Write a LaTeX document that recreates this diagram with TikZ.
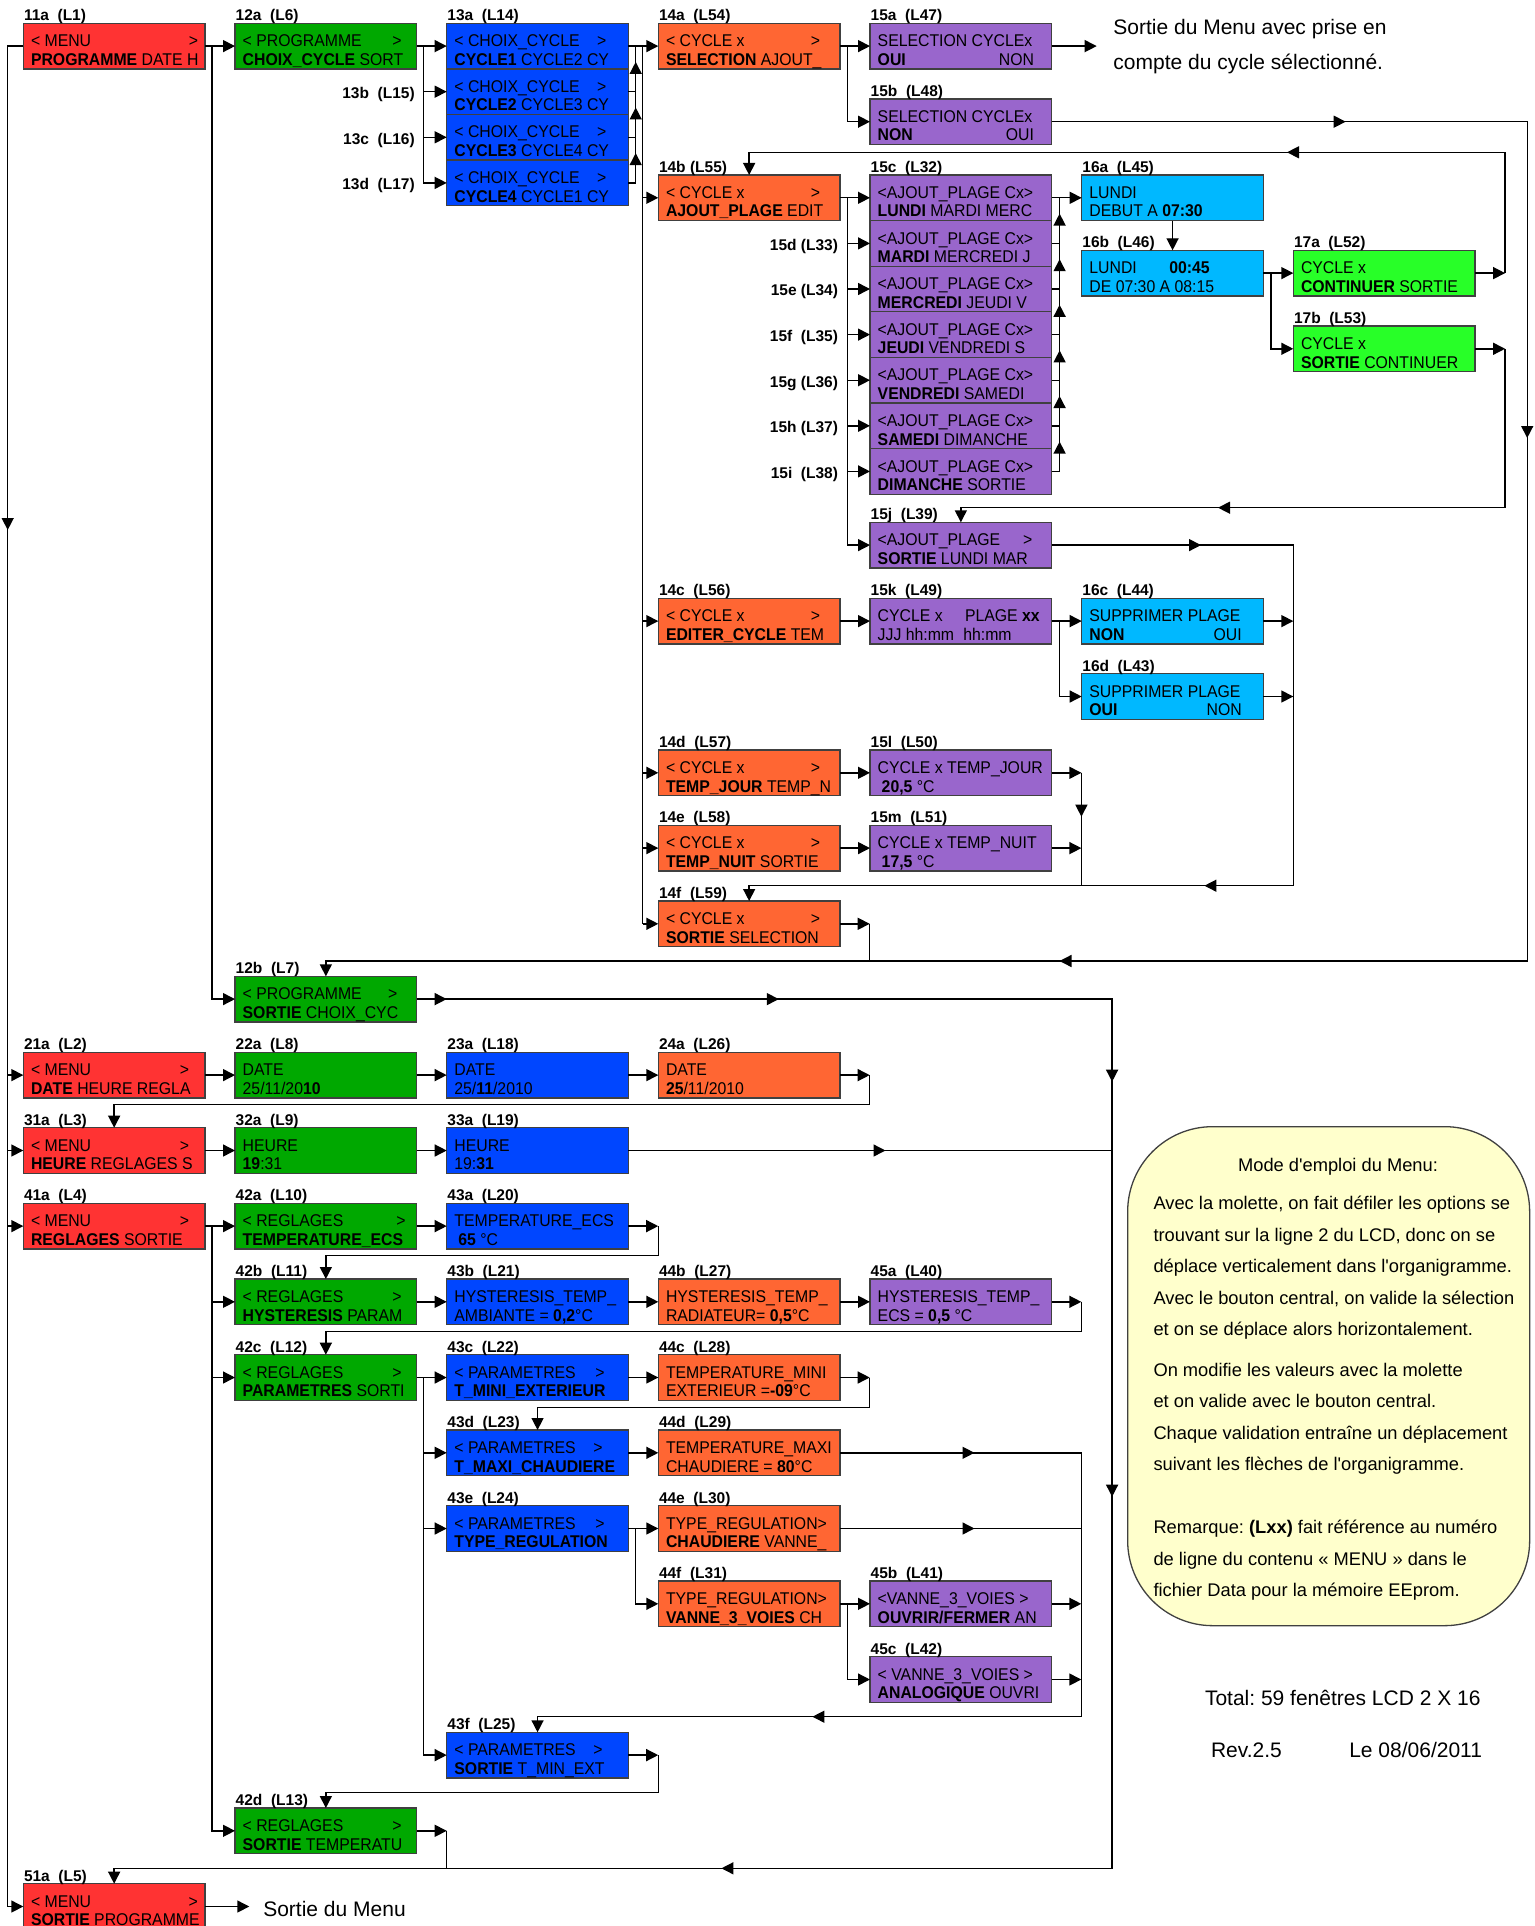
\documentclass[tikz,border=0pt]{standalone}
\usepackage{fontspec}
\setmainfont{Liberation Sans}
\newfontfamily\lcdfont[FakeStretch=0.93]{Liberation Sans}
\usetikzlibrary{arrows.meta,calc}
\frenchspacing
\definecolor{cred}{RGB}{255,51,51}
\definecolor{cgreen}{RGB}{0,168,0}
\definecolor{cblue}{RGB}{0,70,255}
\definecolor{corange}{RGB}{255,102,51}
\definecolor{cpurple}{RGB}{153,102,204}
\definecolor{ccyan}{RGB}{0,184,255}
\definecolor{clime}{RGB}{40,255,40}
\definecolor{cnote}{RGB}{255,255,204}
\tikzset{
 lcdbox/.style={draw=black!75,line width=1.3pt,minimum width=181.7pt,minimum height=45.6pt,inner sep=0pt,outer sep=0pt,anchor=north west},
 lcdtxt/.style={inner sep=0pt,outer sep=0pt,anchor=base west,font=\lcdfont\fontsize{17}{20}\selectfont},
 labtxt/.style={inner sep=0pt,outer sep=0pt,anchor=base west,font=\fontsize{15.5}{18}\selectfont\bfseries},
 bigtxt/.style={inner sep=0pt,outer sep=0pt,anchor=base west,font=\fontsize{21}{25}\selectfont},
 notetxt/.style={inner sep=0pt,outer sep=0pt,anchor=base west,font=\fontsize{18.3}{22}\selectfont},
 con/.style={line width=1.4pt,draw=black},
 arr/.style={con,-{Triangle[length=12pt,width=12pt]}},
}
\newcommand{\lcdBox}[6]{%
  \node[lcdbox,fill=#4] (#1) at (#2,#3) {};
  \node[lcdtxt] (#1a) at ([xshift=7.7pt,yshift=-23.4pt]#1.north west) {#5};
  \node[lcdtxt] (#1b) at ([xshift=7.7pt,yshift=-42pt]#1.north west) {#6};
}
\newcommand{\lcdR}[3]{\node[lcdtxt,anchor=base east] (#1r) at ([xshift=#2pt,yshift=-23.4pt]#1.north west) {#3};}
\newcommand{\lcdRb}[3]{\node[lcdtxt,anchor=base east] (#1s) at ([xshift=#2pt,yshift=-42pt]#1.north west) {#3};}
\newcommand{\lcdAt}[5]{\node[lcdtxt] (#1) at ([xshift=#3pt,yshift=-#4pt]#2.north west) {#5};}
\newcommand{\lcdLab}[2]{\node[labtxt] (#1l) at ([xshift=0.7pt,yshift=2.7pt]#1.north west) {#2};}
\newcommand{\lcdLabL}[2]{\node[labtxt,anchor=base east] (#1l) at ([xshift=-32pt,yshift=-29.6pt]#1.north west) {#2};}
\begin{document}
\begin{tikzpicture}[x=1pt,y=-1pt]
\useasboundingbox (0,0) rectangle (1534,1926);
\fill[white] (0,0) rectangle (1534,1926);
% ---------- column 1
\lcdBox{b11a}{23.3}{23.3}{cred}{< MENU}{\textbf{PROGRAMME} DATE H}\lcdR{b11a}{174.7}{>}\lcdLab{b11a}{11a~~(L1)}
\lcdBox{b21a}{23.3}{1052.3}{cred}{< MENU}{\textbf{DATE} HEURE REGLA}\lcdR{b21a}{165.7}{>}\lcdLab{b21a}{21a~~(L2)}
\lcdBox{b31a}{23.3}{1127.7}{cred}{< MENU}{\textbf{HEURE} REGLAGES S}\lcdR{b31a}{165.7}{>}\lcdLab{b31a}{31a~~(L3)}
\lcdBox{b41a}{23.3}{1203.3}{cred}{< MENU}{\textbf{REGLAGES} SORTIE}\lcdR{b41a}{165.7}{>}\lcdLab{b41a}{41a~~(L4)}
\lcdBox{b51a}{23.3}{1883.7}{cred}{< MENU}{\textbf{SORTIE} PROGRAMME}\lcdR{b51a}{174.5}{>}\lcdLab{b51a}{51a~~(L5)}
% ---------- column 2
\lcdBox{b12a}{235}{23.3}{cgreen}{< PROGRAMME}{\textbf{CHOIX\_CYCLE} SORT}\lcdR{b12a}{166.7}{>}\lcdLab{b12a}{12a~~(L6)}
\lcdBox{b12b}{235}{976.3}{cgreen}{< PROGRAMME}{\textbf{SORTIE} CHOIX\_CYC}\lcdR{b12b}{162.3}{>}\lcdLab{b12b}{12b~~(L7)}
\lcdBox{b22a}{235}{1052.3}{cgreen}{DATE}{25/11/20\textbf{10}}\lcdLab{b22a}{22a~~(L8)}
\lcdBox{b32a}{235}{1127.7}{cgreen}{HEURE}{\textbf{19}:31}\lcdLab{b32a}{32a~~(L9)}
\lcdBox{b42a}{235}{1203.3}{cgreen}{< REGLAGES}{\textbf{TEMPERATURE\_ECS}}\lcdR{b42a}{170.7}{>}\lcdLab{b42a}{42a~~(L10)}
\lcdBox{b42b}{235}{1279}{cgreen}{< REGLAGES}{\textbf{HYSTERESIS} PARAM}\lcdR{b42b}{166.7}{>}\lcdLab{b42b}{42b~~(L11)}
\lcdBox{b42c}{235}{1354.7}{cgreen}{< REGLAGES}{\textbf{PARAMETRES} SORTI}\lcdR{b42c}{166.7}{>}\lcdLab{b42c}{42c~~(L12)}
\lcdBox{b42d}{235}{1808}{cgreen}{< REGLAGES}{\textbf{SORTIE} TEMPERATU}\lcdR{b42d}{166.7}{>}\lcdLab{b42d}{42d~~(L13)}
% ---------- column 3
\lcdBox{b13a}{446.7}{23.3}{cblue}{< CHOIX\_CYCLE}{\textbf{CYCLE1} CYCLE2 CY}\lcdR{b13a}{159.7}{>}\lcdLab{b13a}{13a~~(L14)}
\lcdBox{b13b}{446.7}{68.9}{cblue}{< CHOIX\_CYCLE}{\textbf{CYCLE2} CYCLE3 CY}\lcdR{b13b}{159.7}{>}\lcdLabL{b13b}{13b~~(L15)}
\lcdBox{b13c}{446.7}{114.5}{cblue}{< CHOIX\_CYCLE}{\textbf{CYCLE3} CYCLE4 CY}\lcdR{b13c}{159.7}{>}\lcdLabL{b13c}{13c~~(L16)}
\lcdBox{b13d}{446.7}{160.1}{cblue}{< CHOIX\_CYCLE}{\textbf{CYCLE4} CYCLE1 CY}\lcdR{b13d}{159.7}{>}\lcdLabL{b13d}{13d~~(L17)}
\lcdBox{b23a}{446.7}{1052.3}{cblue}{DATE}{25/\textbf{11}/2010}\lcdLab{b23a}{23a~~(L18)}
\lcdBox{b33a}{446.7}{1127.7}{cblue}{HEURE}{19:\textbf{31}}\lcdLab{b33a}{33a~~(L19)}
\lcdBox{b43a}{446.7}{1203.3}{cblue}{TEMPERATURE\_ECS}{\hspace{4pt}\textbf{65} °C}\lcdLab{b43a}{43a~~(L20)}
\lcdBox{b43b}{446.7}{1279}{cblue}{HYSTERESIS\_TEMP\_}{AMBIANTE = \textbf{0,2}°C}\lcdLab{b43b}{43b~~(L21)}
\lcdBox{b43c}{446.7}{1354.7}{cblue}{< PARAMETRES}{\textbf{T\_MINI\_EXTERIEUR}}\lcdR{b43c}{158}{>}\lcdLab{b43c}{43c~~(L22)}
\lcdBox{b43d}{446.7}{1430}{cblue}{< PARAMETRES}{\textbf{T\_MAXI\_CHAUDIERE}}\lcdR{b43d}{156}{>}\lcdLab{b43d}{43d~~(L23)}
\lcdBox{b43e}{446.7}{1505.7}{cblue}{< PARAMETRES}{\textbf{TYPE\_REGULATION}}\lcdR{b43e}{158}{>}\lcdLab{b43e}{43e~~(L24)}
\lcdBox{b43f}{446.7}{1732.3}{cblue}{< PARAMETRES}{\textbf{SORTIE} T\_MIN\_EXT}\lcdR{b43f}{156}{>}\lcdLab{b43f}{43f~~(L25)}
% ---------- column 4
\lcdBox{b14a}{658.3}{23.3}{corange}{< CYCLE x}{\textbf{SELECTION} AJOUT\_}\lcdR{b14a}{161.7}{>}\lcdLab{b14a}{14a~~(L54)}
\lcdBox{b14b}{658.3}{175}{corange}{< CYCLE x}{\textbf{AJOUT\_PLAGE} EDIT}\lcdR{b14b}{161.7}{>}\lcdLab{b14b}{14b~(L55)}
\lcdBox{b14c}{658.3}{598.3}{corange}{< CYCLE x}{\textbf{EDITER\_CYCLE} TEM}\lcdR{b14c}{161.7}{>}\lcdLab{b14c}{14c~~(L56)}
\lcdBox{b14d}{658.3}{750}{corange}{< CYCLE x}{\textbf{TEMP\_JOUR} TEMP\_N}\lcdR{b14d}{161.7}{>}\lcdLab{b14d}{14d~~(L57)}
\lcdBox{b14e}{658.3}{825.3}{corange}{< CYCLE x}{\textbf{TEMP\_NUIT} SORTIE}\lcdR{b14e}{161.7}{>}\lcdLab{b14e}{14e~~(L58)}
\lcdBox{b14f}{658.3}{901}{corange}{< CYCLE x}{\textbf{SORTIE} SELECTION}\lcdR{b14f}{161.7}{>}\lcdLab{b14f}{14f~~(L59)}
\lcdBox{b24a}{658.3}{1052.3}{corange}{DATE}{\textbf{25}/11/2010}\lcdLab{b24a}{24a~~(L26)}
\lcdBox{b44b}{658.3}{1279}{corange}{HYSTERESIS\_TEMP\_}{RADIATEUR= \textbf{0,5}°C}\lcdLab{b44b}{44b~~(L27)}
\lcdBox{b44c}{658.3}{1354.7}{corange}{TEMPERATURE\_MINI}{EXTERIEUR =\textbf{-09}°C}\lcdLab{b44c}{44c~~(L28)}
\lcdBox{b44d}{658.3}{1430}{corange}{TEMPERATURE\_MAXI}{CHAUDIERE = \textbf{80}°C}\lcdLab{b44d}{44d~~(L29)}
\lcdBox{b44e}{658.3}{1505.7}{corange}{TYPE\_REGULATION>}{\textbf{CHAUDIERE} VANNE\_}\lcdLab{b44e}{44e~~(L30)}
\lcdBox{b44f}{658.3}{1581}{corange}{TYPE\_REGULATION>}{\textbf{VANNE\_3\_VOIES} CH}\lcdLab{b44f}{44f~~(L31)}
% ---------- column 5
\lcdBox{b15a}{870}{23.3}{cpurple}{SELECTION CYCLEx}{\textbf{OUI}}\lcdRb{b15a}{164}{NON}\lcdLab{b15a}{15a~~(L47)}
\lcdBox{b15b}{870}{98.9}{cpurple}{SELECTION CYCLEx}{\textbf{NON}}\lcdRb{b15b}{164}{OUI}\lcdLab{b15b}{15b~~(L48)}
\lcdBox{b15c}{870}{175}{cpurple}{<AJOUT\_PLAGE Cx>}{\textbf{LUNDI} MARDI MERC}\lcdLab{b15c}{15c~~(L32)}
\lcdBox{b15d}{870}{220.6}{cpurple}{<AJOUT\_PLAGE Cx>}{\textbf{MARDI} MERCREDI J}\lcdLabL{b15d}{15d~(L33)}
\lcdBox{b15e}{870}{266.2}{cpurple}{<AJOUT\_PLAGE Cx>}{\textbf{MERCREDI} JEUDI V}\lcdLabL{b15e}{15e~(L34)}
\lcdBox{b15f}{870}{311.8}{cpurple}{<AJOUT\_PLAGE Cx>}{\textbf{JEUDI} VENDREDI S}\lcdLabL{b15f}{15f~~(L35)}
\lcdBox{b15g}{870}{357.4}{cpurple}{<AJOUT\_PLAGE Cx>}{\textbf{VENDREDI} SAMEDI}\lcdLabL{b15g}{15g~(L36)}
\lcdBox{b15h}{870}{403}{cpurple}{<AJOUT\_PLAGE Cx>}{\textbf{SAMEDI} DIMANCHE}\lcdLabL{b15h}{15h~(L37)}
\lcdBox{b15i}{870}{448.6}{cpurple}{<AJOUT\_PLAGE Cx>}{\textbf{DIMANCHE} SORTIE}\lcdLabL{b15i}{15i~~(L38)}
\lcdBox{b15j}{870}{522.3}{cpurple}{<AJOUT\_PLAGE}{\textbf{SORTIE} LUNDI MAR}\lcdR{b15j}{162.4}{>}\lcdLab{b15j}{15j~~(L39)}
\lcdBox{b15k}{870}{598.3}{cpurple}{CYCLE x}{JJJ hh:mm}\lcdAt{b15kx}{b15k}{95}{23.4}{PLAGE \textbf{xx}}\lcdAt{b15ky}{b15k}{93.3}{42}{hh:mm}\lcdLab{b15k}{15k~~(L49)}
\lcdBox{b15l}{870}{750}{cpurple}{CYCLE x TEMP\_JOUR}{\hspace{4pt}\textbf{20,5} °C}\lcdLab{b15l}{15l~~(L50)}
\lcdBox{b15m}{870}{825.3}{cpurple}{CYCLE x TEMP\_NUIT}{\hspace{4pt}\textbf{17,5} °C}\lcdLab{b15m}{15m~~(L51)}
\lcdBox{b45a}{870}{1279}{cpurple}{HYSTERESIS\_TEMP\_}{ECS = \textbf{0,5} °C}\lcdLab{b45a}{45a~~(L40)}
\lcdBox{b45b}{870}{1581}{cpurple}{<VANNE\_3\_VOIES >}{\textbf{OUVRIR/FERMER} AN}\lcdLab{b45b}{45b~~(L41)}
\lcdBox{b45c}{870}{1656.7}{cpurple}{< VANNE\_3\_VOIES >}{\textbf{ANALOGIQUE} OUVRI}\lcdLab{b45c}{45c~~(L42)}
% ---------- column 6
\lcdBox{b16a}{1081.7}{175}{ccyan}{LUNDI}{DEBUT A \textbf{07:30}}\lcdLab{b16a}{16a~~(L45)}
\lcdBox{b16b}{1081.7}{250.3}{ccyan}{LUNDI}{DE 07:30 A 08:15}\lcdAt{b16bx}{b16b}{87.6}{23.4}{\textbf{00:45}}\lcdLab{b16b}{16b~~(L46)}
\lcdBox{b16c}{1081.7}{598.3}{ccyan}{SUPPRIMER PLAGE}{\textbf{NON}}\lcdRb{b16c}{160}{OUI}\lcdLab{b16c}{16c~~(L44)}
\lcdBox{b16d}{1081.7}{673.7}{ccyan}{SUPPRIMER PLAGE}{\textbf{OUI}}\lcdRb{b16d}{160}{NON}\lcdLab{b16d}{16d~~(L43)}
% ---------- column 7
\lcdBox{b17a}{1293.3}{250.3}{clime}{CYCLE x}{\textbf{CONTINUER} SORTIE}\lcdLab{b17a}{17a~~(L52)}
\lcdBox{b17b}{1293.3}{326}{clime}{CYCLE x}{\textbf{SORTIE} CONTINUER}\lcdLab{b17b}{17b~~(L53)}
% ---------- helper coordinates
\coordinate (Y1) at (0,152.3);
\coordinate (Y2) at (0,507.7);
\coordinate (Y3) at (0,1104.3);
\coordinate (Y4) at (0,1255.7);
\coordinate (Y5) at (0,1331.7);
\coordinate (Y6) at (0,1407.7);
\coordinate (Y7) at (0,1792.7);
% ---------- left trunk
\coordinate (LT) at (7.7,46.1);
\draw[con] (b11a.west) -- (LT) -- (LT |- b51a.west);
\foreach \n in {b21a,b31a,b41a,b51a} \draw[arr] (LT |- \n.west) -- (\n.west);
\draw[arr] (7.7,518) -- (7.7,530);
% ---------- 11a / 12a / 13x
\draw[arr] (b11a.east) -- (b12a.west);
\coordinate (J1) at ($(b11a.east)+(7,0)$);
\draw[arr] (J1) |- (b12b.west);
\draw[arr] (b12a.east) -- (b13a.west);
\coordinate (J2) at ($(b12a.east)+(6.6,0)$);
\foreach \n in {b13b,b13c,b13d} \draw[arr] (J2) |- (\n.west);
\draw[arr] (b13a.east) -- (b14a.west);
\coordinate (J3) at ($(b13a.east)+(7.3,0)$);
\draw[con] (b13d.east) -| (J3);
\foreach \n in {b13b,b13c} \draw[con] (\n.east) -- (J3 |- \n.east);
\foreach \n in {b13b,b13c,b13d} \draw[arr] ($(J3 |- \n.north)+(0,5)$) -- ++(0,-12);
\coordinate (J4) at ($(b13a.east)+(14.3,0)$);
\draw[con] (J4) -- (J4 |- b14f.west);
\foreach \n in {b14b,b14c,b14d,b14e,b14f} \draw[arr] (J4 |- \n.west) -- (\n.west);
% ---------- 14a
\draw[arr] (b14a.east) -- (b15a.west);
\coordinate (J5) at ($(b14a.east)+(7.3,0)$);
\draw[arr] (J5) |- (b15b.west);
\draw[arr] (b15a.east) -- ++(45,0) coordinate (E15a);
% ---------- 15b loop to 12b
\coordinate (X1) at (1527.2,961);
\draw[arr] (b15b.east) -| (X1) -| (b12b.north);
\draw[arr] (1333.7,121.7) -- (1345.7,121.7);
\draw[arr] (1527.2,426) -- (1527.2,438);
\draw[arr] (1071.5,961) -- (1059.5,961);
\draw[arr] (b14f.east) -- ++(29.7,0) coordinate (T14f);
\draw[con] (T14f) -- (T14f |- X1);
% ---------- 14b
\draw[arr] (b14b.east) -- (b15c.west);
\coordinate (J6) at ($(b14b.east)+(7.3,0)$);
\foreach \n in {b15d,b15e,b15f,b15g,b15h,b15i,b15j} \draw[arr] (J6) |- (\n.west);
\draw[arr] (b15c.east) -- (b16a.west);
\coordinate (J7) at ($(b15c.east)+(7.9,0)$);
\draw[con] (b15i.east) -| (J7);
\foreach \n in {b15d,b15e,b15f,b15g,b15h} \draw[con] (\n.east) -- (J7 |- \n.east);
\foreach \n in {b15d,b15e,b15f,b15g,b15h,b15i} \draw[arr] ($(J7 |- \n.north)+(0,5)$) -- ++(0,-12);
\draw[arr] (b16a.south) -- (b16b.north);
\draw[arr] (b16b.east) -- (b17a.west);
\coordinate (J8) at ($(b16b.east)+(7.4,0)$);
\draw[arr] (J8) |- (b17b.west);
% ---------- 17a -> 14b, 17b -> 15j
\draw[arr] (b17a.east) -- ++(30.1,0) coordinate (T17a);
\draw[arr] (T17a) -- (T17a |- Y1) -| (b14b.north);
\draw[arr] (1299,152.3) -- (1287,152.3);
\draw[arr] (b17b.east) -- ++(30.1,0) coordinate (T17b);
\draw[arr] (T17b) -- (T17b |- Y2) -| (b15j.north);
\draw[arr] (1230,507.7) -- (1218,507.7);
% ---------- 15j -> 14f
\coordinate (R15) at (1293.3,885.7);
\draw[arr] (b15j.east) -| (R15) -| (b14f.north);
\draw[arr] (1189,545.1) -- (1201,545.1);
\draw[arr] (1216.4,885.7) -- (1204.4,885.7);
\draw[arr] (b16c.east) -- (R15 |- b16c.east);
\draw[arr] (b16d.east) -- (R15 |- b16d.east);
\draw[arr] (b15l.east) -- ++(29.7,0) coordinate (T15l);
\draw[con] (T15l) -- (T15l |- R15);
\draw[arr] (b15m.east) -- (T15l |- b15m.east);
\draw[arr] (1081.4,804.7) -- (1081.4,816.7);
\draw[arr] (b14c.east) -- (b15k.west);
\draw[arr] (b15k.east) -- (b16c.west);
\coordinate (J9) at ($(b15k.east)+(7.9,0)$);
\draw[arr] (J9) |- (b16d.west);
\draw[arr] (b14d.east) -- (b15l.west);
\draw[arr] (b14e.east) -- (b15m.west);
% ---------- 12b loop to 51a
\coordinate (X2) at (1112.1,1868.3);
\draw[arr] (b12b.east) -| (X2) -| (b51a.north);
\draw[arr] (434.7,999.1) -- (446.7,999.1);
\draw[arr] (766.8,999.1) -- (778.8,999.1);
\draw[arr] (1112.1,1069.7) -- (1112.1,1081.7);
\draw[arr] (1112.1,1484.7) -- (1112.1,1496.7);
\draw[arr] (733.4,1868.3) -- (721.4,1868.3);
\draw[con] (b33a.east) -- (X2 |- b33a.east);
\draw[arr] (873.5,1150.5) -- (885.5,1150.5);
\draw[arr] (b42d.east) -- ++(30,0) coordinate (T42d);
\draw[con] (T42d) -- (T42d |- X2);
% ---------- rows 2,3
\draw[arr] (b21a.east) -- (b22a.west);
\draw[arr] (b22a.east) -- (b23a.west);
\draw[arr] (b23a.east) -- (b24a.west);
\draw[arr] (b24a.east) -- ++(29.7,0) coordinate (T24a);
\draw[arr] (T24a) -- (T24a |- Y3) -| (b31a.north);
\draw[arr] (b31a.east) -- (b32a.west);
\draw[arr] (b32a.east) -- (b33a.west);
% ---------- row 4 (reglages)
\draw[arr] (b41a.east) -- (b42a.west);
\coordinate (J10) at ($(b41a.east)+(7,0)$);
\foreach \n in {b42b,b42c,b42d} \draw[arr] (J10) |- (\n.west);
\draw[arr] (b42a.east) -- (b43a.west);
\draw[arr] (b43a.east) -- ++(29.8,0) coordinate (T43a);
\draw[arr] (T43a) -- (T43a |- Y4) -| (b42b.north);
\draw[arr] (b42b.east) -- (b43b.west);
\draw[arr] (b43b.east) -- (b44b.west);
\draw[arr] (b44b.east) -- (b45a.west);
\draw[arr] (b45a.east) -- ++(29.6,0) coordinate (T45a);
\draw[arr] (T45a) -- (T45a |- Y5) -| (b42c.north);
\draw[arr] (b42c.east) -- (b43c.west);
\coordinate (J11) at ($(b42c.east)+(6.6,0)$);
\foreach \n in {b43d,b43e,b43f} \draw[arr] (J11) |- (\n.west);
\draw[arr] (b43c.east) -- (b44c.west);
\draw[arr] (b44c.east) -- ++(29.7,0) coordinate (T44c);
\draw[arr] (T44c) -- (T44c |- Y6) -| (b43d.north);
\draw[arr] (b43d.east) -- (b44d.west);
\draw[arr] (b43e.east) -- (b44e.west);
\coordinate (J12) at ($(b43e.east)+(7.2,0)$);
\draw[arr] (J12) |- (b44f.west);
\draw[arr] (b44f.east) -- (b45b.west);
\coordinate (J13) at ($(b44f.east)+(7.2,0)$);
\draw[arr] (J13) |- (b45c.west);
\coordinate (X3) at (1081.3,1716.7);
\draw[arr] (b44d.east) -| (X3) -| (b43f.north);
\draw[con] (b44e.east) -- (X3 |- b44e.east);
\draw[arr] (b45b.east) -- (X3 |- b45b.east);
\draw[arr] (b45c.east) -- (X3 |- b45c.east);
\draw[arr] (962.5,1452.8) -- (974.5,1452.8);
\draw[arr] (962.5,1528.5) -- (974.5,1528.5);
\draw[arr] (824.4,1716.7) -- (812.4,1716.7);
\draw[arr] (b43f.east) -- ++(29.8,0) coordinate (T43f);
\draw[arr] (T43f) -- (T43f |- Y7) -| (b42d.north);
\draw[arr] (b51a.east) -- ++(44.3,0) coordinate (E51a);
% ---------- free texts
\node[bigtxt] (t1) at (1113.4,34.3) {Sortie du Menu avec prise en};
\node[bigtxt] (t2) at (1113.4,70) {compte du cycle sélectionné.};
\node[bigtxt] (t3) at (263.3,1916.7) {Sortie du Menu};
\node[bigtxt] (t4) at (1205,1705) {Total: 59 fenêtres LCD 2 X 16};
\node[bigtxt] (t5) at (1211,1757) {Rev.2.5};
\node[bigtxt] (t6) at (1349.3,1757) {Le 08/06/2011};
% ---------- note box
\node[draw=black!75,line width=1.3pt,fill=cnote,rounded corners=85pt,minimum width=402pt,minimum height=499pt,inner sep=0pt,anchor=north west] (note) at (1127,1126) {};
\node[notetxt,anchor=base] (n0) at (1338,1171) {Mode d\textquotesingle emploi du Menu:};
\node[notetxt] (n1) at (1153.5,1209.5) {Avec la molette, on fait défiler les options se};
\node[notetxt] (n2) at (1153.5,1241) {trouvant sur la ligne 2 du LCD, donc on se};
\node[notetxt] (n3) at (1153.5,1272.5) {déplace verticalement dans l\textquotesingle organigramme.};
\node[notetxt] (n4) at (1153.5,1304) {Avec le bouton central, on valide la sélection};
\node[notetxt] (n5) at (1153.5,1335.5) {et on se déplace alors horizontalement.};
\node[notetxt] (n6) at (1153.5,1376) {On modifie les valeurs avec la molette};
\node[notetxt] (n7) at (1153.5,1407.5) {et on valide avec le bouton central.};
\node[notetxt] (n8) at (1153.5,1439) {Chaque validation entraîne un déplacement};
\node[notetxt] (n9) at (1153.5,1470.5) {suivant les flèches de l\textquotesingle organigramme.};
\node[notetxt] (n10) at (1153.5,1533.5) {Remarque: \textbf{(Lxx)} fait référence au numéro};
\node[notetxt] (n11) at (1153.5,1565) {de ligne du contenu « MENU » dans le};
\node[notetxt] (n12) at (1153.5,1596.5) {fichier Data pour la mémoire EEprom.};
\end{tikzpicture}
\end{document}
